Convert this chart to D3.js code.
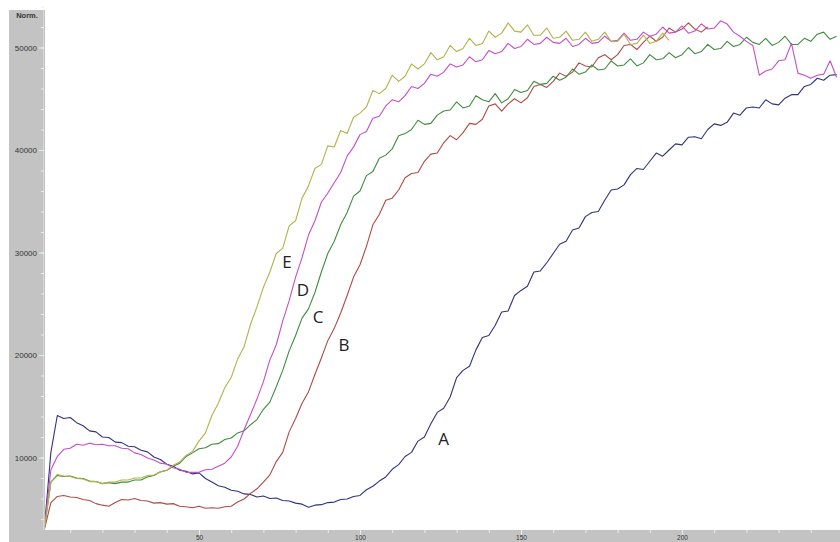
<!DOCTYPE html>
<html>
<head>
<meta charset="utf-8">
<script src="https://cdn.jsdelivr.net/npm/d3@7"></script>
<style>
  body { margin: 0; background: #fff; }
  svg { display: block; }
</style>
</head>
<body>
<div id="chart"></div>
<script>
// cycle numbers (x), one reading every 2 cycles
var cycles = d3.range(2, 249, 2);

var seriesA = [
  3200, 10500, 14100, 13800, 13900, 13400, 13100, 12600, 12500, 12000,
  11950, 11500, 11450, 11100, 11050, 10700, 10550, 10050, 9800, 9350,
  9150, 8750, 8650, 8400, 8500, 7950, 7600, 7250, 7100, 6800,
  6700, 6450, 6400, 6150, 6250, 6000, 6050, 5800, 5750, 5550,
  5450, 5150, 5350, 5400, 5600, 5650, 5900, 5950, 6200, 6300,
  6850, 7200, 7700, 8100, 8850, 9300, 10100, 10500, 11600, 12000,
  13300, 14400, 14800, 15900, 17800, 18500, 18900, 20500, 21700, 21900,
  22900, 24200, 24300, 25800, 26300, 26700, 28100, 28200, 29000, 29900,
  30800, 31100, 32200, 32400, 33500, 33900, 34000, 35100, 36100, 36200,
  36600, 37600, 38200, 38100, 38900, 39700, 39400, 40000, 40600, 40500,
  41250, 41300, 41100, 42000, 42550, 42400, 42700, 43600, 43400, 44100,
  44200, 44100, 44900, 44500, 44400, 45050, 45400, 45400, 46200, 46400,
  47000, 46800, 47300, 47350
];

var seriesB = [
  3000, 5600, 6200, 6300, 6150, 6100, 5900, 5800, 5500, 5350,
  5250, 5600, 5900, 5850, 6000, 5800, 5750, 5550, 5600, 5450,
  5500, 5250, 5200, 5100, 5250, 5050, 5100, 5050, 5200, 5250,
  5650, 5950, 6500, 6950, 7600, 8300, 9600, 10500, 12500, 13800,
  15300, 16400, 18100, 19700, 21400, 22600, 24100, 25800, 27600, 28800,
  30600, 32700, 33700, 35100, 35300, 36100, 37300, 37700, 37800, 38900,
  39600, 39700, 40700, 41400, 41000, 41700, 42600, 42500, 43000, 44300,
  44500, 43800, 44500, 45000, 44600, 45100, 46200, 46400, 46100, 46700,
  47500, 47200, 47600, 48500, 48200, 48100, 49000, 49300, 48800, 49300,
  50200, 50300, 49800, 50500, 51100, 50600, 51000, 51900, 51500, 51800,
  52400, 51800, 51500, 52000
];

var seriesC = [
  3100, 7600, 8250, 8150, 8200, 8000, 7950, 7700, 7650, 7450,
  7550, 7450, 7600, 7600, 7800, 7800, 8100, 8250, 8600, 8750,
  9150, 9450, 10100, 10450, 10850, 10950, 11300, 11350, 11750, 11900,
  12400, 12600, 13200, 13700, 14700, 15400, 16900, 18500, 20400, 21900,
  23600, 24500, 26100, 28100, 29900, 31100, 32700, 33900, 35500, 36000,
  37500, 37900, 39200, 39500, 40100, 41400, 41600, 42000, 42900, 42500,
  42600, 43400, 43800, 43900, 44700, 44100, 44300, 45300, 44900, 44700,
  45500, 44600, 45000, 45900, 45600, 45800, 46700, 46400, 46500, 47200,
  46800, 47100, 47900, 47400, 47600, 48300, 47800, 47900, 48700, 48200,
  48300, 48900, 48200, 48500, 49300, 48800, 48900, 49500, 49000, 49300,
  50000, 49400, 49600, 50300, 49800, 49900, 50600, 50100, 50300, 51000,
  50500, 50300, 50900, 50200, 50500, 51100, 50300, 50300, 50900, 50600,
  51300, 51500, 50800, 51100
];

var seriesD = [
  3200, 8800, 10100, 10800, 10900, 11300, 11200, 11400, 11250, 11300,
  11150, 11150, 10900, 10850, 10450, 10300, 9950, 9750, 9450, 9350,
  9000, 8850, 8550, 8550, 8550, 8800, 8850, 9150, 9450, 10050,
  11100, 12700, 14200, 15700, 17400, 19500, 21000, 23300, 25300, 27600,
  29500, 31700, 33100, 34900, 35800, 36800, 37800, 39400, 40300,
  41500, 41800, 43100, 43300, 44300, 44900, 44700, 45300, 46200, 46000,
  46500, 47400, 47200, 47600, 48400, 48100, 48300, 49100, 48600, 48800,
  49700, 49400, 49600, 50400, 49900, 50100, 50800, 50300, 50400, 51000,
  50500, 50400, 50900, 50100, 50300, 50900, 50400, 50500, 51100, 50600,
  50700, 51400, 50700, 50800, 51500, 51100, 51300, 52000, 51400, 51500,
  52100, 51400, 51600, 52300, 51800, 51900, 52600, 52300, 51500, 51100,
  50600, 50200, 47300, 47700, 47900, 48700, 48800, 50400, 47500, 47300,
  47000, 47300, 47400, 48700, 47100
];

var seriesE = [
  3100, 7600, 8350, 8200, 8150, 7950, 7900, 7650, 7650, 7450,
  7600, 7600, 7800, 7800, 8000, 8000, 8250, 8300, 8600, 8750,
  9250, 9550, 10200, 10600, 11600, 12400, 14100, 15300, 16800, 17800,
  19600, 20800, 23000, 24700, 26600, 28100, 29900, 30400, 32600, 33100,
  35300, 36500, 38200, 38600, 40400, 40300, 41900, 41600, 43200,
  43600, 44200, 45800, 45500, 46000, 47300, 46700, 47200, 48400, 47900,
  48400, 49500, 48800, 49100, 50200, 49600, 49900, 50900, 50200, 50400,
  51600, 51000, 51400, 52400, 51600, 51500, 52200, 51200, 51200, 51900,
  50900, 51000, 51600, 50700, 50800, 51500, 50600, 50800, 51500, 50600,
  50600, 51300, 50300, 50400, 51200, 50400, 50600, 51400, 50700
];

var seriesNames = ["A", "B", "C", "D", "E"];
var seriesValues = [seriesA, seriesB, seriesC, seriesD, seriesE];
var seriesColors = ["#2f3380", "#b04a44", "#3e8c3e", "#c64ec6", "#b2b24c"];

// letter annotations next to the curves (cycle, value)
var labelNames = ["A", "B", "C", "D", "E"];
var labelCycles = [126, 95, 87, 82.3, 77.3];
var labelValues = [11900, 21000, 23800, 26400, 29100];

var yMajor = [10000, 20000, 30000, 40000, 50000];
var yMinor = d3.range(4000, 54001, 2000);
var xMajor = [50, 100, 150, 200];
var xMinor = d3.range(10, 241, 10);

function createChart() {
    var W = 840, H = 542;
    var plotLeft = 45, plotBottom = 530, bandLeft = 9, bandTop = 10;

    var x = d3.scaleLinear().domain([0, 250]).range([38, 843]);
    var y = d3.scaleLinear().domain([0, 50000]).range([560, 47.5]);

    var svg = d3.select("#chart").append("svg")
        .attr("width", W)
        .attr("height", H)
        .style("font-family", "'Liberation Sans', Arial, sans-serif");

    svg.append("defs").append("clipPath")
        .attr("id", "plotclip")
        .append("rect")
        .attr("x", plotLeft)
        .attr("y", 0)
        .attr("width", W - plotLeft)
        .attr("height", plotBottom);

    // gray axis bands
    svg.append("rect")
        .attr("x", bandLeft).attr("y", bandTop)
        .attr("width", plotLeft - bandLeft).attr("height", H - bandTop)
        .attr("fill", "#c3c3c3");
    svg.append("rect")
        .attr("x", bandLeft).attr("y", plotBottom)
        .attr("width", W - bandLeft).attr("height", H - plotBottom)
        .attr("fill", "#c3c3c3");
    svg.append("line")
        .attr("x1", plotLeft - 1.5).attr("x2", plotLeft - 1.5)
        .attr("y1", bandTop).attr("y2", plotBottom)
        .attr("stroke", "#d6d6d6").attr("stroke-width", 1);

    // y axis: minor then major ticks with labels
    svg.append("g")
        .attr("transform", "translate(" + (plotLeft - 1) + ",0)")
        .call(d3.axisLeft(y).tickValues(yMinor).tickSize(3).tickFormat(""));
    svg.append("g")
        .attr("class", "yaxis")
        .attr("transform", "translate(" + (plotLeft - 1) + ",0)")
        .call(d3.axisLeft(y).tickValues(yMajor).tickSize(5).tickPadding(2)
            .tickFormat(d3.format("d")));

    // x axis along the bottom band
    svg.append("g")
        .attr("transform", "translate(0," + plotBottom + ")")
        .call(d3.axisBottom(x).tickValues(xMinor).tickSize(3).tickFormat(""));
    svg.append("g")
        .attr("class", "xaxis")
        .attr("transform", "translate(0," + plotBottom + ")")
        .call(d3.axisBottom(x).tickValues(xMajor).tickSize(5).tickPadding(0)
            .tickFormat(d3.format("d")));

    svg.selectAll(".domain").remove();
    svg.selectAll(".tick line").attr("stroke", "#ececec");
    svg.selectAll(".yaxis .tick text")
        .attr("fill", "#333")
        .style("font-size", "8px");
    svg.selectAll(".xaxis .tick text")
        .attr("fill", "#333")
        .style("font-size", "6.5px");

    svg.append("text")
        .attr("x", 27).attr("y", 18)
        .attr("text-anchor", "middle")
        .attr("fill", "#333")
        .style("font-size", "7.5px")
        .style("font-weight", "bold")
        .text("Norm.");

    // curves
    var line = d3.line()
        .x(function(d) { return x(d.cycle); })
        .y(function(d) { return y(d.val); });

    var plot = svg.append("g").attr("clip-path", "url(#plotclip)");

    seriesNames.forEach(function(name, i) {
        var vals = seriesValues[i];
        var pts = vals.map(function(v, j) { return { cycle: cycles[j], val: v }; });
        plot.append("path")
            .datum(pts)
            .attr("class", "curve curve-" + name)
            .attr("fill", "none")
            .attr("stroke", seriesColors[i])
            .attr("stroke-width", 1.1)
            .attr("stroke-linejoin", "round")
            .attr("d", line);
    });

    // letters
    svg.selectAll(".lbl")
        .data(labelNames)
        .enter().append("text")
        .attr("class", "lbl")
        .attr("x", function(d, i) { return x(labelCycles[i]); })
        .attr("y", function(d, i) { return y(labelValues[i]); })
        .attr("text-anchor", "middle")
        .attr("dominant-baseline", "central")
        .attr("fill", "#222")
        .style("font-family", "'Open Sans', sans-serif")
        .style("font-size", "17px")
        .text(function(d) { return d; });
}

createChart();
</script>
</body>
</html>
